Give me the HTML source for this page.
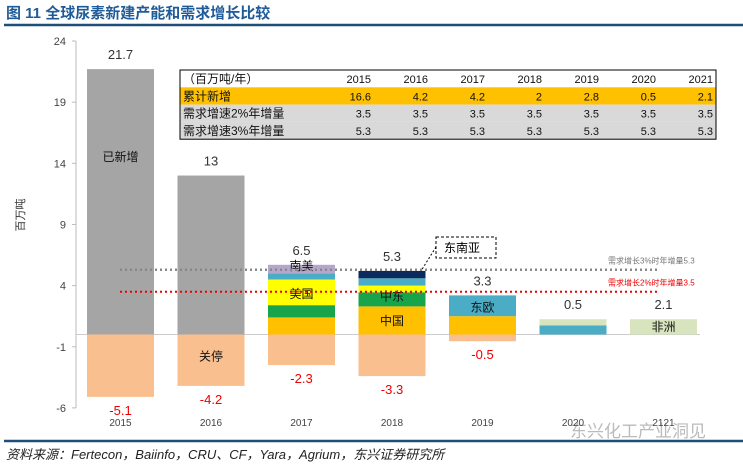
<!DOCTYPE html>
<html><head><meta charset="utf-8"><style>
body{margin:0;background:#fff;width:743px;height:466px;overflow:hidden;font-family:"Liberation Sans","Noto Sans CJK SC",sans-serif}
svg text{font-family:"Liberation Sans","Noto Sans CJK SC",sans-serif}
</style></head><body>
<svg id="c" width="743" height="466" xmlns="http://www.w3.org/2000/svg">
<text x="6" y="18" font-size="15" font-weight="bold" fill="#1f5b99">图 11 全球尿素新建产能和需求增长比较</text>
<line x1="4" y1="25" x2="743" y2="25" stroke="#1f4e79" stroke-width="2.5"/>
<line x1="4" y1="441" x2="743" y2="441" stroke="#1f4e79" stroke-width="2.5"/>
<text x="6" y="459" font-size="13" font-style="italic" fill="#222">资料来源：Fertecon，Baiinfo，CRU、CF，Yara，Agrium，东兴证券研究所</text>
<text x="570" y="437" font-size="17" fill="#bbb">东兴化工产业洞见</text>
<text transform="translate(24,215) rotate(-90)" font-size="11" fill="#333" text-anchor="middle">百万吨</text>
<g id="axes"></g><g id="bars"></g><g id="tbl"></g>
</svg>
<script>
const categories=["2015","2016","2017","2018","2019","2020","2121"];
const newCap=[21.7,13,0,0,0,0,0];
const china=[0,0,1.4,2.3,1.5,0,0];
const mideast=[0,0,1.0,1.15,0,0,0];
const usa=[0,0,2.1,0.55,0,0,0];
const europe=[0,0,0.5,0.6,1.7,0.75,0];
const seAsiaSA=[0,0,0.7,0.6,0,0,0];
const africa=[0,0,0,0,0,0.5,1.25];
const closures=[-5.1,-4.2,-2.5,-3.4,-0.55,0,0];
const totalLabels=["21.7","13","6.5","5.3","3.3","0.5","2.1"];
const negLabels=["-5.1","-4.2","-2.3","-3.3","-0.5","",""];
const yTicks=[24,19,14,9,4,-1,-6];
const demand2=3.5, demand3=5.3;
const tblYears=["2015","2016","2017","2018","2019","2020","2021"];
const cumNew=["16.6","4.2","4.2","2","2.8","0.5","2.1"];
const dem2Row=["3.5","3.5","3.5","3.5","3.5","3.5","3.5"];
const dem3Row=["5.3","5.3","5.3","5.3","5.3","5.3","5.3"];

const NS="http://www.w3.org/2000/svg";
const y=v=>41+(24-v)*12.23;
const x=i=>87+i*90.5;
const bw=67;
function mk(p,t,a){const e=document.createElementNS(NS,t);for(const k in a)e.setAttribute(k,a[k]);p.appendChild(e);return e;}
const ax=document.getElementById('axes'),bs=document.getElementById('bars'),tb=document.getElementById('tbl');
const yl=mk(ax,'line',{x1:76,y1:y(24),x2:76,y2:y(-6),stroke:'#bbb'});


yTicks.forEach(t=>{
 const tl=mk(ax,'line',{x1:72,y1:y(t),x2:76,y2:y(t),stroke:'#bbb'});
 
 
 const tx=mk(ax,'text',{x:66,y:y(t)+4,'font-size':11,'text-anchor':'end',fill:'#444'});tx.textContent=t;
 
 
});
const zl=mk(ax,'line',{x1:76,y1:y(0),x2:700,y2:y(0),stroke:'#ccc'});


const series=[[newCap,'#a5a5a5'],[china,'#ffc000'],[mideast,'#17a44a'],[usa,'#ffff00'],[europe,'#4bacc6'],[seAsiaSA,'#b4a7c9'],[africa,'#d7e4bd']];
categories.forEach((c,i)=>{
 let cum=0;
 series.forEach(([arr,col],si)=>{
  const v=arr[i]; if(!v)return;
  let fill=col; if(si==5&&i==3)fill='#0d2a5e';
  const r=mk(bs,'rect',{x:x(i),y:y(cum+v),width:bw,height:y(cum)-y(cum+v),fill:fill});
  
  
  cum+=v;
 });
 if(closures[i]){const r=mk(bs,'rect',{x:x(i),y:y(0),width:bw,height:y(closures[i])-y(0),fill:'#f9bf8f'});
  
  }
 const top=i<2?newCap[i]:cum;
 const t=mk(bs,'text',{x:x(i)+bw/2,y:y(top)-10,'font-size':13,'text-anchor':'middle',fill:'#333'});t.textContent=totalLabels[i];
 
 
 if(negLabels[i]){const n=mk(bs,'text',{x:x(i)+bw/2,y:y(closures[i])+18,'font-size':13,'text-anchor':'middle',fill:'#e00'});n.textContent=negLabels[i];
  
  }
 const cl=mk(bs,'text',{x:x(i)+bw/2,y:426,'font-size':10,'text-anchor':'middle',fill:'#444'});cl.textContent=c;
 
 
});
[["已新增",0,14.5],["关停",1,-1.8],["南美",2,5.6],["美国",2,3.3],["中东",3,3.1],["中国",3,1.1],["东欧",4,2.2],["非洲",6,0.6]].forEach(([s,i,v])=>{
 const t=mk(bs,'text',{x:x(i)+bw/2,y:y(v)+4,'font-size':12,'text-anchor':'middle',fill:'#111'});t.textContent=s;
 
 
});
const g3=mk(bs,'line',{x1:120,y1:y(demand3),x2:660,y2:y(demand3),stroke:'#888','stroke-width':2.5,'stroke-dasharray':'2 3'});


const g2=mk(bs,'line',{x1:120,y1:y(demand2),x2:660,y2:y(demand2),stroke:'#e00','stroke-width':2,'stroke-dasharray':'2 3'});


const l3=mk(bs,'text',{x:608,y:y(demand3)-6,'font-size':8,fill:'#777'});l3.textContent='需求增长3%时年增量5.3';


const l2=mk(bs,'text',{x:608,y:y(demand2)-6,'font-size':8,fill:'#e00'});l2.textContent='需求增长2%时年增量3.5';


const cb=mk(bs,'rect',{x:436,y:237,width:60,height:21,fill:'#fff',stroke:'#000','stroke-dasharray':'3 2'});


const ct=mk(bs,'text',{x:444,y:252,'font-size':12,fill:'#000'});ct.textContent='东南亚';


const cln=mk(bs,'line',{x1:436,y1:247,x2:421,y2:271,stroke:'#000','stroke-dasharray':'2 2'});


// table
const rows=[["（百万吨/年）",tblYears,'#fff'],["累计新增",cumNew,'#ffc000'],["需求增速2%年增量",dem2Row,'#d9d9d9'],["需求增速3%年增量",dem3Row,'#d9d9d9']];
rows.forEach(([h,vals,bg],r)=>{
 const ry=70+r*17.3;
 const rr=mk(tb,'rect',{x:180,y:ry,width:536,height:17.3,fill:bg});
 
 
 const ht=mk(tb,'text',{x:183,y:ry+13,'font-size':12,fill:'#111'});ht.textContent=h;
 
 
 vals.forEach((v,j)=>{const t=mk(tb,'text',{x:371+j*57,y:ry+13,'font-size':11,'text-anchor':'end',fill:'#111'});t.textContent=v;
  
  });
});
const tbo=mk(tb,'rect',{x:180,y:70,width:536,height:69.2,fill:'none',stroke:'#000'});


</script>
</body></html>
